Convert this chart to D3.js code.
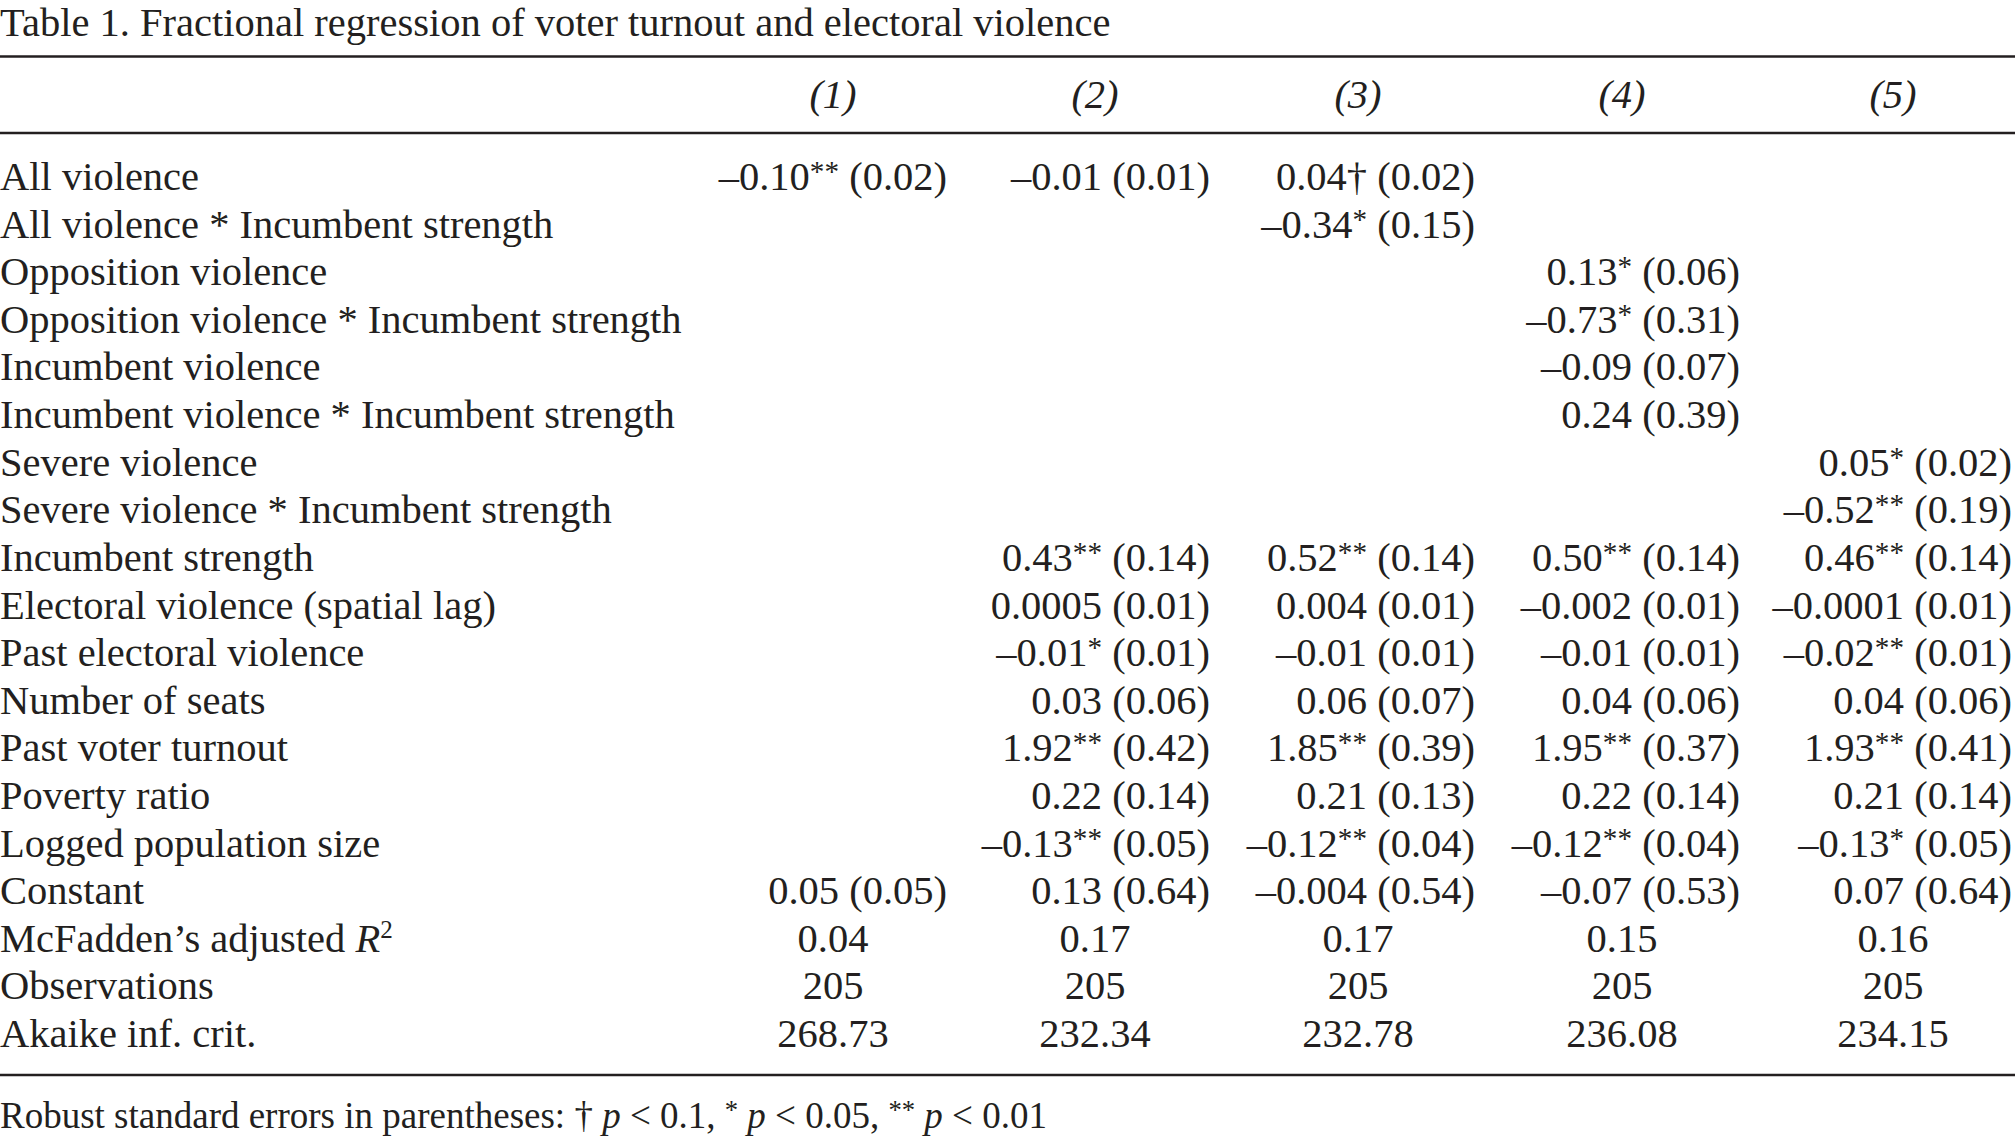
<!DOCTYPE html>
<html>
<head>
<meta charset="utf-8">
<script src="https://cdn.jsdelivr.net/npm/d3@7"></script>
<style>
  html, body { margin: 0; padding: 0; background: #fff; }
  svg text { font-family: "Liberation Serif", "Times New Roman", serif; fill: #231f20; }
</style>
</head>
<body>
<svg id="chart"></svg>
<script>
// ---------------- DATA ----------------
const title = "Table 1. Fractional regression of voter turnout and electoral violence";
const models = ["(1)", "(2)", "(3)", "(4)", "(5)"];
const rowLabels = [
  "All violence",
  "All violence * Incumbent strength",
  "Opposition violence",
  "Opposition violence * Incumbent strength",
  "Incumbent violence",
  "Incumbent violence * Incumbent strength",
  "Severe violence",
  "Severe violence * Incumbent strength",
  "Incumbent strength",
  "Electoral violence (spatial lag)",
  "Past electoral violence",
  "Number of seats",
  "Past voter turnout",
  "Poverty ratio",
  "Logged population size",
  "Constant"
];
// coefficient estimates per model (null = not in model)
const est1 = ["–0.10", null, null, null, null, null, null, null, null, null, null, null, null, null, null, "0.05"];
const est2 = ["–0.01", null, null, null, null, null, null, null, "0.43", "0.0005", "–0.01", "0.03", "1.92", "0.22", "–0.13", "0.13"];
const est3 = ["0.04", "–0.34", null, null, null, null, null, null, "0.52", "0.004", "–0.01", "0.06", "1.85", "0.21", "–0.12", "–0.004"];
const est4 = [null, null, "0.13", "–0.73", "–0.09", "0.24", null, null, "0.50", "–0.002", "–0.01", "0.04", "1.95", "0.22", "–0.12", "–0.07"];
const est5 = [null, null, null, null, null, null, "0.05", "–0.52", "0.46", "–0.0001", "–0.02", "0.04", "1.93", "0.21", "–0.13", "0.07"];
// robust standard errors
const se1 = ["0.02", null, null, null, null, null, null, null, null, null, null, null, null, null, null, "0.05"];
const se2 = ["0.01", null, null, null, null, null, null, null, "0.14", "0.01", "0.01", "0.06", "0.42", "0.14", "0.05", "0.64"];
const se3 = ["0.02", "0.15", null, null, null, null, null, null, "0.14", "0.01", "0.01", "0.07", "0.39", "0.13", "0.04", "0.54"];
const se4 = [null, null, "0.06", "0.31", "0.07", "0.39", null, null, "0.14", "0.01", "0.01", "0.06", "0.37", "0.14", "0.04", "0.53"];
const se5 = [null, null, null, null, null, null, "0.02", "0.19", "0.14", "0.01", "0.01", "0.06", "0.41", "0.14", "0.05", "0.64"];
// significance markers
const sig1 = ["**", "", "", "", "", "", "", "", "", "", "", "", "", "", "", ""];
const sig2 = ["", "", "", "", "", "", "", "", "**", "", "*", "", "**", "", "**", ""];
const sig3 = ["†", "*", "", "", "", "", "", "", "**", "", "", "", "**", "", "**", ""];
const sig4 = ["", "", "*", "*", "", "", "", "", "**", "", "", "", "**", "", "**", ""];
const sig5 = ["", "", "", "", "", "", "*", "**", "**", "", "**", "", "**", "", "*", ""];
// model statistics
const statLabels = ["McFadden’s adjusted R2", "Observations", "Akaike inf. crit."];
const mcfaddenR2 = ["0.04", "0.17", "0.17", "0.15", "0.16"];
const observations = ["205", "205", "205", "205", "205"];
const aic = ["268.73", "232.34", "232.78", "236.08", "234.15"];
const footnote = "Robust standard errors in parentheses";

// ---------------- LAYOUT ----------------
const W = 2015, H = 1139;
const FS = 40.5;
const STAR = FS * 0.72;
const svg = d3.select("#chart").attr("width", W).attr("height", H)
  .attr("viewBox", `0 0 ${W} ${H}`);
svg.append("rect").attr("width", W).attr("height", H).attr("fill", "#fff");

const estCols = [est1, est2, est3, est4, est5];
const seCols = [se1, se2, se3, se4, se5];
const sigCols = [sig1, sig2, sig3, sig4, sig5];
const statCols = [mcfaddenR2, observations, aic];

const allRows = rowLabels.concat(statLabels);
const y = d3.scalePoint().domain(allRows).range([190, 1047]);
const xRight = d3.scaleOrdinal().domain(models).range([947, 1210, 1475, 1740, 2012]);
const xCenter = d3.scaleOrdinal().domain(models).range([833, 1095, 1358, 1622, 1893]);

const ruleColor = "#231f20";
const rules = [56.5, 133, 1075];
svg.selectAll("line.rule").data(rules).join("line")
  .attr("class", "rule")
  .attr("x1", 0).attr("x2", W)
  .attr("y1", d => d).attr("y2", d => d)
  .attr("stroke", ruleColor).attr("stroke-width", 2.6);

// title
svg.append("text").attr("x", 0).attr("y", 36).attr("font-size", FS).text(title);

// headers
svg.selectAll("text.hdr").data(models).join("text")
  .attr("class", "hdr")
  .attr("x", d => xCenter(d)).attr("y", 108)
  .attr("text-anchor", "middle").attr("font-size", FS).attr("font-style", "italic")
  .text(d => d);

// row labels
const labelSel = svg.selectAll("text.lbl").data(allRows).join("text")
  .attr("class", "lbl")
  .attr("x", 0).attr("y", d => y(d)).attr("font-size", FS);
labelSel.each(function (d) {
  const t = d3.select(this);
  if (d === "McFadden’s adjusted R2") {
    t.append("tspan").text("McFadden’s adjusted ");
    t.append("tspan").attr("font-style", "italic").text("R");
    t.append("tspan").attr("font-size", FS * 0.62).attr("dy", -14).text("2");
  } else {
    t.text(d);
  }
});

// coefficient cells
const cells = [];
models.forEach((m, j) => {
  rowLabels.forEach((r, i) => {
    if (estCols[j][i] != null) {
      cells.push({ model: m, row: r, est: estCols[j][i], se: seCols[j][i], sig: sigCols[j][i] });
    }
  });
});
svg.selectAll("text.cell").data(cells).join("text")
  .attr("class", "cell")
  .attr("x", d => xRight(d.model)).attr("y", d => y(d.row))
  .attr("text-anchor", "end").attr("font-size", FS)
  .each(function (d) {
    const t = d3.select(this);
    t.append("tspan").text(d.est);
    if (d.sig === "†") {
      t.append("tspan").text("†");
    } else if (d.sig) {
      t.append("tspan").attr("font-size", STAR).attr("dy", -9).text(d.sig);
      t.append("tspan").attr("dy", 9).text("\u00a0(" + d.se + ")");
      return;
    }
    t.append("tspan").text("\u00a0(" + d.se + ")");
  });

// stats cells
const statCells = [];
statLabels.forEach((s, i) => {
  models.forEach((m, j) => statCells.push({ model: m, row: s, v: statCols[i][j] }));
});
svg.selectAll("text.stat").data(statCells).join("text")
  .attr("class", "stat")
  .attr("x", d => xCenter(d.model)).attr("y", d => y(d.row))
  .attr("text-anchor", "middle").attr("font-size", FS)
  .text(d => d.v);

// footnote
const FN = 37;
const fn = svg.append("text").attr("x", 0).attr("y", 1128).attr("font-size", FN);
fn.append("tspan").text(footnote + ": † ");
fn.append("tspan").attr("font-style", "italic").text("p");
fn.append("tspan").text(" < 0.1, ");
fn.append("tspan").attr("font-size", FN * 0.72).attr("dy", -9).text("*");
fn.append("tspan").attr("dy", 9).text(" ");
fn.append("tspan").attr("font-style", "italic").text("p");
fn.append("tspan").text(" < 0.05, ");
fn.append("tspan").attr("font-size", FN * 0.72).attr("dy", -9).text("**");
fn.append("tspan").attr("dy", 9).text(" ");
fn.append("tspan").attr("font-style", "italic").text("p");
fn.append("tspan").text(" < 0.01");
</script>
</body>
</html>
